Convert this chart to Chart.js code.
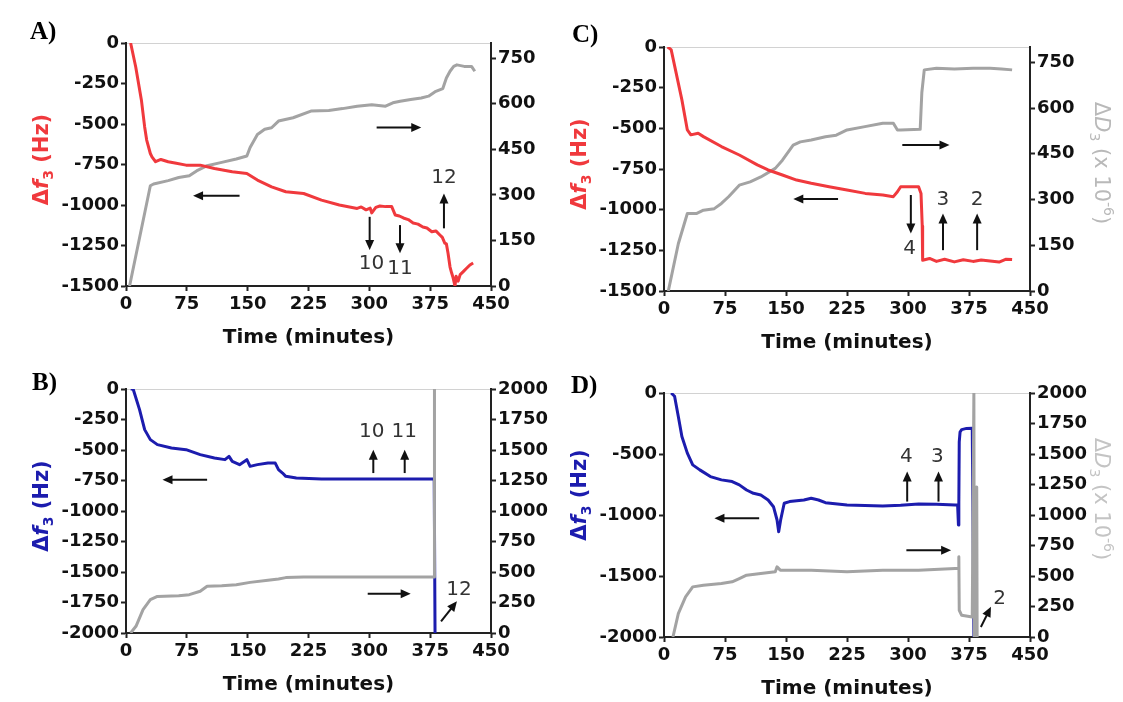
<!DOCTYPE html>
<html>
<head>
<meta charset="utf-8">
<script src="https://cdn.jsdelivr.net/npm/chart.js@4.4.0/dist/chart.umd.min.js"></script>
<style>
  html, body { margin: 0; padding: 0; background: #fff; }
  #wrap { position: relative; width: 1123px; height: 702px; overflow: hidden; }
  #wrap canvas { position: absolute; left: 0; top: 0; }
</style>
</head>
<body>
<div id="wrap">
  <canvas id="chartA" width="1123" height="702"></canvas>
  <canvas id="chartB" width="1123" height="702"></canvas>
  <canvas id="chartC" width="1123" height="702"></canvas>
  <canvas id="chartD" width="1123" height="702"></canvas>
</div>
<script>
// axis ticks
const timeTicksStep = 75;
const dissTicksSmall = [0, 150, 300, 450, 600, 750];

// Panel A: frequency (Hz) and dissipation (x 10^-6)
const timeA_f = [5.7, 12, 19, 23, 25.5, 30, 32, 36.5, 43, 52,
  62, 74, 91.5, 109, 131, 149, 162, 179.5, 197, 219,
  241, 263, 285, 290, 296, 301, 303, 308, 313, 320,
  327.6, 332, 337, 342, 348, 354, 360, 366, 371, 377,
  382, 387, 390, 393, 395, 397, 399.5, 401.5, 403, 405.6,
  407, 409.5, 412, 415.5, 419, 424, 428];
const freqA = [0, -148, -353, -518, -599, -682, -703, -733, -719, -733,
  -742, -754, -754, -775, -795, -805, -846, -888, -918, -929,
  -970, -1000, -1021, -1012, -1030, -1019, -1049, -1015, -1006, -1010,
  -1010, -1062, -1068, -1080, -1090, -1111, -1118, -1136, -1142, -1165,
  -1160, -1185, -1200, -1235, -1240, -1296, -1383, -1420, -1444, -1500,
  -1440, -1470, -1430, -1413, -1395, -1370, -1358];
const timeA_d = [4.4, 30, 34, 52, 65, 78, 87, 100, 118, 136,
  149, 153, 162, 171, 179.5, 188, 206, 228, 250, 267,
  285, 303, 320, 329, 338, 351, 364, 373, 382, 390.6,
  395, 399.5, 404, 408, 417, 426, 430];
const dissA = [0, 330, 336, 347, 357, 363, 379, 396, 407, 418,
  428, 456, 499, 516, 521, 543, 554, 576, 578, 584,
  592, 597, 592, 603, 608, 614, 619, 625, 641, 650,
  685, 707, 723, 728, 723, 723, 707];

// Panel C
const timeC_f = [4.4, 8.8, 22, 28.7, 33, 42, 48.5, 70.6, 92.6, 114.7,
  128, 145.6, 163, 181, 203, 225, 247.5, 269, 282, 287,
  291, 313, 316, 317.5, 318, 326.5, 335, 345, 357, 368,
  380, 390, 401, 412, 420, 428];
const freqC = [0, -16, -325, -510, -540, -530, -551, -612, -664, -725,
  -756, -787, -818, -838, -859, -879, -900, -910, -920, -890,
  -859, -859, -900, -1100, -1311, -1300, -1318, -1305, -1321, -1308,
  -1318, -1310, -1315, -1322, -1305, -1307];
const timeC_d = [5.3, 17.6, 28.7, 39.7, 48.5, 61.8, 70.6, 79.4, 92.6, 105.9,
  119, 136.8, 145.6, 158.8, 167.6, 181, 198.5, 211.8, 225, 247,
  269, 282, 287, 291, 315, 317, 320, 335, 357, 380,
  401, 415, 428];
const dissC = [0, 155, 254, 254, 265, 270, 287, 309, 347, 358,
  374, 402, 429, 478, 489, 495, 506, 511, 528, 539,
  550, 550, 528, 528, 530, 650, 725, 730, 728, 730,
  730, 728, 725];

// Panel B
const timeB_f = [5.7, 8.8, 16.7, 23, 30, 38.7, 56, 74, 91.5, 109,
  122, 127, 131, 140, 149, 153, 162, 175, 184, 188,
  193, 197, 210, 241, 285, 329, 380, 381];
const freqB = [0, 0, -169, -333, -415, -456, -484, -497, -538, -566,
  -579, -552, -593, -620, -579, -634, -620, -607, -607, -661,
  -689, -716, -730, -738, -738, -738, -738, -2000];
const timeB_d = [5.7, 12.3, 21, 30, 38.7, 65, 78, 91.5, 100, 118,
  136, 153, 175, 188, 197, 219, 285, 380, 380.3];
const dissB = [0, 55, 191, 273, 300, 306, 314, 342, 383, 388,
  396, 415, 432, 443, 454, 459, 459, 459, 2000];

// Panel D
const timeD_f = [8.8, 13, 17.6, 22, 28.7, 35.3, 44, 57, 70.6, 83.8,
  92.6, 101.5, 110, 119, 128, 134.6, 139, 141, 143.4, 147.8,
  154.4, 172, 181, 190, 198.5, 225, 269, 291, 313, 335,
  358, 361, 362, 362.5, 363, 364, 366, 372, 379, 381,
  383.5];
const freqD = [0, -27, -192, -356, -493, -589, -630, -685, -712, -726,
  -753, -795, -822, -836, -877, -932, -1041, -1137, -1041, -904,
  -890, -877, -863, -877, -899, -918, -926, -921, -910, -912,
  -918, -918, -1082, -900, -400, -320, -300, -290, -288, -2000,
  -1860];
const timeD_d = [11, 17.6, 26.5, 35.3, 48.5, 70.6, 83.8, 92.6, 101.5, 119,
  136.8, 139, 143, 159, 181, 225, 269, 313, 358, 362,
  362.5, 363, 366, 379, 381, 381.5, 384.5, 385];
const dissD = [0, 192, 329, 411, 425, 438, 452, 479, 507, 521,
  534, 575, 548, 548, 548, 534, 548, 548, 562, 562,
  658, 219, 178, 164, 2000, 0, 1230, 0];

const FONT = 'DejaVu Sans';
const RED = '#f0393d';
const BLUE = '#1c1cae';
const GRAY = '#a3a3a3';

function rich(ctx, parts, cx, cy, rot) {
  ctx.save();
  ctx.translate(cx, cy);
  ctx.rotate(rot);
  let total = 0;
  parts.forEach(p => { ctx.font = p.font; p.w = ctx.measureText(p.text).width; total += p.w; });
  let xx = -total / 2;
  ctx.textAlign = 'left';
  ctx.textBaseline = 'alphabetic';
  parts.forEach(p => {
    ctx.font = p.font;
    ctx.fillStyle = p.color;
    ctx.fillText(p.text, xx, 7 + (p.dy || 0));
    xx += p.w;
  });
  ctx.restore();
}

function panelPlugin(p) {
  return {
    id: 'panelMarks',
    afterDatasetsDraw(chart) {
      const ctx = chart.ctx;
      const xs = chart.scales.x, ys = chart.scales.yL;
      ctx.save();
      ctx.strokeStyle = '#111';
      ctx.fillStyle = '#111';
      ctx.lineWidth = 2;
      p.arrows.forEach(a => {
        const x1 = xs.getPixelForValue(a[0]), y1 = ys.getPixelForValue(a[1]);
        const x2 = xs.getPixelForValue(a[2]), y2 = ys.getPixelForValue(a[3]);
        const ang = Math.atan2(y2 - y1, x2 - x1);
        const hl = 10, hw = 4.5;
        const c = Math.cos(ang), s = Math.sin(ang);
        ctx.beginPath();
        ctx.moveTo(x1, y1);
        ctx.lineTo(x2 - hl * 0.7 * c, y2 - hl * 0.7 * s);
        ctx.stroke();
        ctx.beginPath();
        ctx.moveTo(x2, y2);
        ctx.lineTo(x2 - hl * c + hw * s, y2 - hl * s - hw * c);
        ctx.lineTo(x2 - hl * c - hw * s, y2 - hl * s + hw * c);
        ctx.closePath();
        ctx.fill();
      });
      ctx.fillStyle = '#333';
      ctx.font = '20px "' + FONT + '"';
      ctx.textAlign = 'center';
      ctx.textBaseline = 'middle';
      p.numbers.forEach(n => {
        ctx.fillText(n[2], xs.getPixelForValue(n[0]), ys.getPixelForValue(n[1]));
      });
      ctx.restore();
    },
    afterDraw(chart) {
      const ctx = chart.ctx;
      const area = chart.chartArea;
      const midY = (area.top + area.bottom) / 2;
      const bold = 'bold 21px "' + FONT + '"';
      rich(ctx, [
        { text: 'Δ', font: bold, color: p.color },
        { text: 'f', font: 'italic ' + bold, color: p.color },
        { text: '3', font: 'bold 14px "' + FONT + '"', color: p.color, dy: 5 },
        { text: ' (Hz)', font: bold, color: p.color }
      ], area.left - 85, midY + p.titleShift, -Math.PI / 2);
      if (p.rightTitle) {
        const reg = '21px "' + FONT + '"';
        const rc = p.rightTitle;
        rich(ctx, [
          { text: 'Δ', font: reg, color: rc },
          { text: 'D', font: 'italic ' + reg, color: rc },
          { text: '3', font: '14px "' + FONT + '"', color: rc, dy: 5 },
          { text: ' (x 10', font: reg, color: rc },
          { text: '-6', font: '14px "' + FONT + '"', color: rc, dy: -9 },
          { text: ')', font: reg, color: rc }
        ], area.right + 72, midY + p.rightShift, Math.PI / 2);
      }
      ctx.save();
      ctx.fillStyle = '#000';
      ctx.font = 'bold 25px "Liberation Serif"';
      ctx.textAlign = 'left';
      ctx.textBaseline = 'alphabetic';
      ctx.fillText(p.letter, p.letterPos[0], p.letterPos[1]);
      ctx.restore();
    }
  };
}

const plainLabel = v => String(v);

function makePanel(id, p) {
  const tickFont = { family: FONT, weight: 'bold', size: 18 };
  const datasets = p.series.map(s => ({
    data: s.t.map((t, i) => ({ x: t, y: s.v[i] })),
    yAxisID: s.axis,
    borderColor: s.color,
    borderWidth: 3,
    pointRadius: 0,
    tension: 0,
    fill: false,
    borderJoinStyle: 'round'
  }));
  new Chart(document.getElementById(id), {
    type: 'line',
    data: { datasets },
    options: {
      responsive: false,
      animation: false,
      events: [],
      layout: { padding: { left: 0, top: p.box.top, right: 1123 - p.box.right - 60, bottom: 702 - p.box.bottom - 64 } },
      plugins: { legend: { display: false }, tooltip: { enabled: false } },
      scales: {
        x: {
          type: 'linear', position: 'bottom', min: 0, max: 450,
          ticks: { stepSize: timeTicksStep, autoSkip: false, maxRotation: 0, color: '#111', font: tickFont, padding: 3, callback: plainLabel },
          grid: { drawOnChartArea: false, tickLength: 5, tickColor: '#222', tickWidth: 2 },
          border: { color: '#222', width: 2 },
          title: { display: true, text: 'Time (minutes)', color: '#111',
                   font: { family: FONT, weight: 'bold', size: 20 }, padding: { top: 0, bottom: 0 } },
          afterFit: s => { s.height = 64; }
        },
        yL: {
          type: 'linear', position: 'left', min: p.leftMin, max: 0,
          ticks: { stepSize: p.leftStep, autoSkip: false, color: '#111', font: tickFont, padding: 2, callback: plainLabel },
          grid: {
            drawOnChartArea: true, tickLength: 5, tickColor: '#222', tickWidth: 2, lineWidth: 1,
            color: c => (c.tick && c.tick.value === 0) ? '#d2d2d2' : 'rgba(0,0,0,0)'
          },
          border: { color: '#222', width: 2 },
          afterFit: s => { s.width = p.box.left; }
        },
        yR: {
          type: 'linear', position: 'right', min: 0, max: p.rightMax,
          ticks: { stepSize: p.rightStep, autoSkip: false, color: '#111', font: tickFont, padding: 2, callback: plainLabel },
          grid: { drawOnChartArea: false, tickLength: 5, tickColor: '#222', tickWidth: 2 },
          border: { color: '#222', width: 2 },
          afterBuildTicks: s => { if (p.rightTicks) s.ticks = p.rightTicks.map(v => ({ value: v })); },
          afterFit: s => { s.width = 60; }
        }
      }
    },
    plugins: [panelPlugin(p)]
  });
}

makePanel('chartA', {
  box: { left: 126, right: 491, top: 43, bottom: 286 },
  leftMin: -1500, leftStep: 250, rightMax: 800, rightStep: 150, rightTicks: dissTicksSmall,
  color: RED, titleShift: -5, rightTitle: null, letter: 'A)', letterPos: [30, 39],
  series: [
    { t: timeA_f, v: freqA, axis: 'yL', color: RED },
    { t: timeA_d, v: dissA, axis: 'yR', color: GRAY }
  ],
  arrows: [[140, -943, 82.7, -943], [309, -522, 364, -522],
           [300.4, -1073, 300.4, -1278], [337.8, -1124, 337.8, -1298], [392, -1144, 392, -929]],
  numbers: [[302.6, -1364, '10'], [337.8, -1391, '11'], [392, -830, '12']]
});

makePanel('chartC', {
  box: { left: 664, right: 1030, top: 47, bottom: 291 },
  leftMin: -1500, leftStep: 250, rightMax: 800, rightStep: 150, rightTicks: dissTicksSmall,
  color: RED, titleShift: -5, rightTitle: '#b9b9b9', rightShift: -6, letter: 'C)', letterPos: [572, 42],
  series: [
    { t: timeC_f, v: freqC, axis: 'yL', color: RED },
    { t: timeC_d, v: dissC, axis: 'yR', color: GRAY }
  ],
  arrows: [[214, -935, 159, -935], [293, -602, 351, -602],
           [303.5, -910, 303.5, -1147], [343, -1249, 343, -1023], [385, -1249, 385, -1023]],
  numbers: [[302, -1239, '4'], [343, -941, '3'], [385, -941, '2']]
});

makePanel('chartB', {
  box: { left: 126, right: 491, top: 389, bottom: 633 },
  leftMin: -2000, leftStep: 250, rightMax: 2000, rightStep: 250, rightTicks: null,
  color: BLUE, titleShift: -5, rightTitle: null, letter: 'B)', letterPos: [32, 390],
  series: [
    { t: timeB_d, v: dissB, axis: 'yR', color: GRAY },
    { t: timeB_f, v: freqB, axis: 'yL', color: BLUE }
  ],
  arrows: [[100, -743, 45, -743], [298, -1678, 351, -1678],
           [304.9, -689, 304.9, -497], [343.6, -689, 343.6, -497], [388.4, -1904, 408, -1740]],
  numbers: [[303, -347, '10'], [343, -347, '11'], [410.5, -1645, '12']]
});

makePanel('chartD', {
  box: { left: 664, right: 1030, top: 393, bottom: 637 },
  leftMin: -2000, leftStep: 500, rightMax: 2000, rightStep: 250, rightTicks: null,
  color: BLUE, titleShift: -20, rightTitle: '#c4c4c4', rightShift: -16, letter: 'D)', letterPos: [571, 393],
  series: [
    { t: timeD_d, v: dissD, axis: 'yR', color: GRAY },
    { t: timeD_f, v: freqD, axis: 'yL', color: BLUE }
  ],
  arrows: [[117, -1027, 62, -1027], [298, -1288, 353, -1288],
           [299, -890, 299, -644], [337.5, -890, 337.5, -644], [389.6, -1918, 402, -1753]],
  numbers: [[298, -521, '4'], [336, -521, '3'], [412.5, -1685, '2']]
});
</script>
</body>
</html>
